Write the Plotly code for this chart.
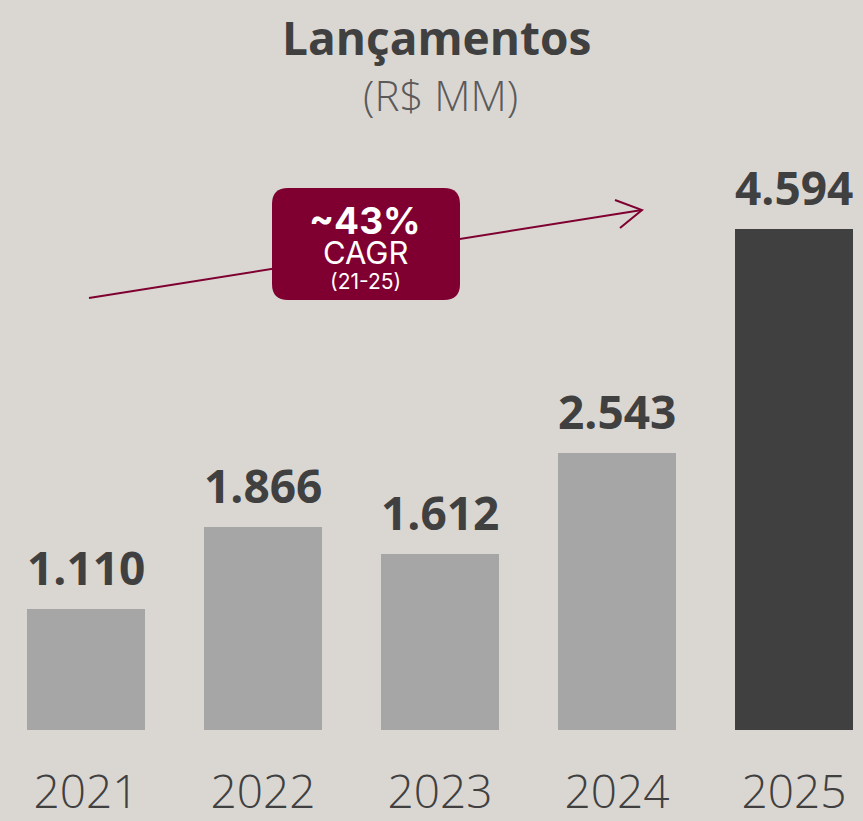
import plotly.graph_objects as go

years = ["2021", "2022", "2023", "2024", "2025"]
values = [1110, 1866, 1612, 2543, 4594]
labels = ["1.110", "1.866", "1.612", "2.543", "4.594"]
bar_colors = ["#a6a6a6", "#a6a6a6", "#a6a6a6", "#a6a6a6", "#404040"]

W, H = 863, 821
MB = 91
PH = H - MB  # plot height


def px(x):
    return x / W


def py(y):
    return (PH - y) / PH


BURG = "#7f0030"
BG = "#dad7d3"
TXT = "#404040"

fig = go.Figure()
fig.add_trace(go.Bar(
    x=years, y=values, marker=dict(color=bar_colors, line=dict(width=0)),
    width=0.667, hoverinfo="skip",
))

annotations = []
for i, (v, lab) in enumerate(zip(values, labels)):
    annotations.append(dict(
        x=i, y=v, xref="x", yref="y", text=lab, showarrow=False,
        xanchor="center", yanchor="bottom", yshift=9,
        font=dict(family="Open Sans", size=46, color=TXT, weight="bold"),
    ))

annotations += [
    dict(x=px(437), y=py(37), xref="paper", yref="paper", text="Lançamentos",
         showarrow=False, xanchor="center", yanchor="middle",
         font=dict(family="Open Sans", size=46, color=TXT, weight="bold")),
    dict(x=px(440), y=py(95), xref="paper", yref="paper", text="(R$ MM)",
         showarrow=False, xanchor="center", yanchor="middle",
         font=dict(family="Open Sans", size=42, color="#5a5a5a", weight=300)),
    dict(x=px(365), y=py(220), xref="paper", yref="paper", text="<b>~43%</b>",
         showarrow=False, xanchor="center", yanchor="middle",
         font=dict(family="Inter", size=37, color="white", weight="bold")),
    dict(x=px(365), y=py(252), xref="paper", yref="paper", text="CAGR",
         showarrow=False, xanchor="center", yanchor="middle",
         font=dict(family="Inter", size=31, color="white")),
    dict(x=px(365), y=py(281), xref="paper", yref="paper", text="(21-25)",
         showarrow=False, xanchor="center", yanchor="middle",
         font=dict(family="Inter", size=21, color="white")),
]

# rounded box
x0, x1, y0, y1, r = 272, 460, 188, 300, 16


def P(x, y):
    return f"{px(x):.5f},{py(y):.5f}"


box_path = (
    f"M {P(x0 + r, y0)} L {P(x1 - r, y0)} Q {P(x1, y0)} {P(x1, y0 + r)} "
    f"L {P(x1, y1 - r)} Q {P(x1, y1)} {P(x1 - r, y1)} "
    f"L {P(x0 + r, y1)} Q {P(x0, y1)} {P(x0, y1 - r)} "
    f"L {P(x0, y0 + r)} Q {P(x0, y0)} {P(x0 + r, y0)} Z"
)

shapes = [
    dict(type="line", xref="paper", yref="paper", x0=px(89), y0=py(298),
         x1=px(642), y1=py(210), line=dict(color=BURG, width=2), layer="above"),
    dict(type="path", xref="paper", yref="paper",
         path=f"M {P(615, 200)} L {P(642, 210)} L {P(620, 228)}",
         line=dict(color=BURG, width=2), layer="above"),
    dict(type="path", xref="paper", yref="paper", path=box_path,
         fillcolor=BURG, line=dict(width=0), layer="above"),
]

fig.update_layout(
    width=W, height=H,
    margin=dict(l=0, r=0, t=0, b=MB),
    paper_bgcolor=BG, plot_bgcolor=BG,
    showlegend=False,
    bargap=0,
    xaxis=dict(
        type="category",
        range=[-0.486, 4.390], showgrid=False, zeroline=False, showline=False,
        ticks="", tickfont=dict(family="Open Sans", size=46, color=TXT, weight=300),
        ticklabelstandoff=31,
    ),
    yaxis=dict(range=[0, 6694], visible=False),
    annotations=annotations,
    shapes=shapes,
)

fig.write_html("out.html", config={"displayModeBar": False},
               post_script="document.body.style.margin='0';")
